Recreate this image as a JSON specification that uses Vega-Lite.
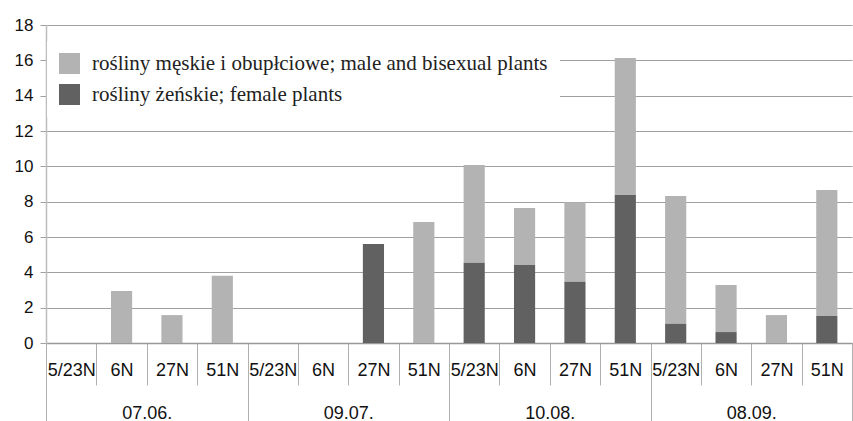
{
  "$schema": "https://vega.github.io/schema/vega-lite/v6.json",
  "width": 806,
  "height": 318,
  "autosize": "none",
  "padding": {"left": 46, "top": 25, "right": 1, "bottom": 78},
  "background": "white",
  "config": {"view": {"stroke": null}, "font": "Liberation Sans"},
  "data": {"values": [
    {"cat": "07.06.|5/23N", "group": "07.06.", "sex": "rośliny męskie i obupłciowe; male and bisexual plants", "value": 0},
    {"cat": "07.06.|5/23N", "group": "07.06.", "sex": "rośliny żeńskie; female plants", "value": 0},
    {"cat": "07.06.|6N", "group": "07.06.", "sex": "rośliny męskie i obupłciowe; male and bisexual plants", "value": 2.95},
    {"cat": "07.06.|6N", "group": "07.06.", "sex": "rośliny żeńskie; female plants", "value": 0},
    {"cat": "07.06.|27N", "group": "07.06.", "sex": "rośliny męskie i obupłciowe; male and bisexual plants", "value": 1.58},
    {"cat": "07.06.|27N", "group": "07.06.", "sex": "rośliny żeńskie; female plants", "value": 0},
    {"cat": "07.06.|51N", "group": "07.06.", "sex": "rośliny męskie i obupłciowe; male and bisexual plants", "value": 3.8},
    {"cat": "07.06.|51N", "group": "07.06.", "sex": "rośliny żeńskie; female plants", "value": 0},
    {"cat": "09.07.|5/23N", "group": "09.07.", "sex": "rośliny męskie i obupłciowe; male and bisexual plants", "value": 0},
    {"cat": "09.07.|5/23N", "group": "09.07.", "sex": "rośliny żeńskie; female plants", "value": 0},
    {"cat": "09.07.|6N", "group": "09.07.", "sex": "rośliny męskie i obupłciowe; male and bisexual plants", "value": 0},
    {"cat": "09.07.|6N", "group": "09.07.", "sex": "rośliny żeńskie; female plants", "value": 0},
    {"cat": "09.07.|27N", "group": "09.07.", "sex": "rośliny męskie i obupłciowe; male and bisexual plants", "value": 0},
    {"cat": "09.07.|27N", "group": "09.07.", "sex": "rośliny żeńskie; female plants", "value": 5.6},
    {"cat": "09.07.|51N", "group": "09.07.", "sex": "rośliny męskie i obupłciowe; male and bisexual plants", "value": 6.85},
    {"cat": "09.07.|51N", "group": "09.07.", "sex": "rośliny żeńskie; female plants", "value": 0},
    {"cat": "10.08.|5/23N", "group": "10.08.", "sex": "rośliny męskie i obupłciowe; male and bisexual plants", "value": 5.53},
    {"cat": "10.08.|5/23N", "group": "10.08.", "sex": "rośliny żeńskie; female plants", "value": 4.54},
    {"cat": "10.08.|6N", "group": "10.08.", "sex": "rośliny męskie i obupłciowe; male and bisexual plants", "value": 3.23},
    {"cat": "10.08.|6N", "group": "10.08.", "sex": "rośliny żeńskie; female plants", "value": 4.41},
    {"cat": "10.08.|27N", "group": "10.08.", "sex": "rośliny męskie i obupłciowe; male and bisexual plants", "value": 4.49},
    {"cat": "10.08.|27N", "group": "10.08.", "sex": "rośliny żeńskie; female plants", "value": 3.47},
    {"cat": "10.08.|51N", "group": "10.08.", "sex": "rośliny męskie i obupłciowe; male and bisexual plants", "value": 7.75},
    {"cat": "10.08.|51N", "group": "10.08.", "sex": "rośliny żeńskie; female plants", "value": 8.38},
    {"cat": "08.09.|5/23N", "group": "08.09.", "sex": "rośliny męskie i obupłciowe; male and bisexual plants", "value": 7.24},
    {"cat": "08.09.|5/23N", "group": "08.09.", "sex": "rośliny żeńskie; female plants", "value": 1.08},
    {"cat": "08.09.|6N", "group": "08.09.", "sex": "rośliny męskie i obupłciowe; male and bisexual plants", "value": 2.66},
    {"cat": "08.09.|6N", "group": "08.09.", "sex": "rośliny żeńskie; female plants", "value": 0.62},
    {"cat": "08.09.|27N", "group": "08.09.", "sex": "rośliny męskie i obupłciowe; male and bisexual plants", "value": 1.58},
    {"cat": "08.09.|27N", "group": "08.09.", "sex": "rośliny żeńskie; female plants", "value": 0},
    {"cat": "08.09.|51N", "group": "08.09.", "sex": "rośliny męskie i obupłciowe; male and bisexual plants", "value": 7.13},
    {"cat": "08.09.|51N", "group": "08.09.", "sex": "rośliny żeńskie; female plants", "value": 1.53}
  ]},
  "resolve": {"scale": {"x": "independent"}, "axis": {"x": "independent"}},
  "layer": [
    {
      "mark": {"type": "bar", "opacity": 0},
      "encoding": {
        "x": {
          "field": "group", "type": "nominal", "sort": null,
          "scale": {"paddingInner": 0, "paddingOuter": 0},
          "axis": {
            "title": null, "orient": "bottom", "tickBand": "extent",
            "labelAngle": 0, "labelFontSize": 18, "labelColor": "#111111",
            "tickSize": 78, "tickColor": "#b0b0b0", "tickWidth": 1,
            "labelPadding": -17, "labelBaseline": "top",
            "domain": false, "grid": false
          }
        }
      }
    },
    {
      "mark": {"type": "bar", "width": {"band": 0.42}},
      "encoding": {
        "x": {
          "field": "cat", "type": "nominal", "sort": null,
          "scale": {"paddingInner": 0, "paddingOuter": 0},
          "axis": {
            "title": null, "orient": "bottom", "tickBand": "extent",
            "labelExpr": "split(datum.value, '|')[1]",
            "labelAngle": 0, "labelFontSize": 18, "labelColor": "#111111",
            "labelOverlap": false,
            "tickSize": 42, "tickColor": "#b0b0b0", "tickWidth": 1,
            "labelPadding": -24, "labelBaseline": "top",
            "domainColor": "#999999", "domainWidth": 1.5, "grid": false
          }
        },
        "y": {
          "field": "value", "type": "quantitative", "stack": "zero",
          "scale": {"domain": [0, 18], "nice": false},
          "axis": {
            "title": null, "values": [0, 2, 4, 6, 8, 10, 12, 14, 16, 18],
            "labelOverlap": false,
            "labelFontSize": 17, "labelColor": "#111111", "labelPadding": 7,
            "tickSize": 6, "tickColor": "#a0a0a0",
            "domainColor": "#bdbdbd", "domainWidth": 1.5,
            "grid": true, "gridColor": "#a0a0a0", "gridWidth": 1.2
          }
        },
        "color": {
          "field": "sex", "type": "nominal",
          "scale": {
            "domain": ["rośliny męskie i obupłciowe; male and bisexual plants", "rośliny żeńskie; female plants"],
            "range": ["#b3b3b3", "#616161"]
          },
          "legend": {
            "title": null, "orient": "none", "legendX": 1, "legendY": 16,
            "padding": 12, "fillColor": "white",
            "symbolType": "square", "symbolSize": 440, "symbolStrokeWidth": 0,
            "labelFont": "Liberation Serif", "labelFontSize": 21, "labelColor": "#222222",
            "labelLimit": 700, "rowPadding": 9, "labelOffset": 12
          }
        },
        "order": {"field": "sex", "sort": "descending"}
      }
    }
  ]
}
